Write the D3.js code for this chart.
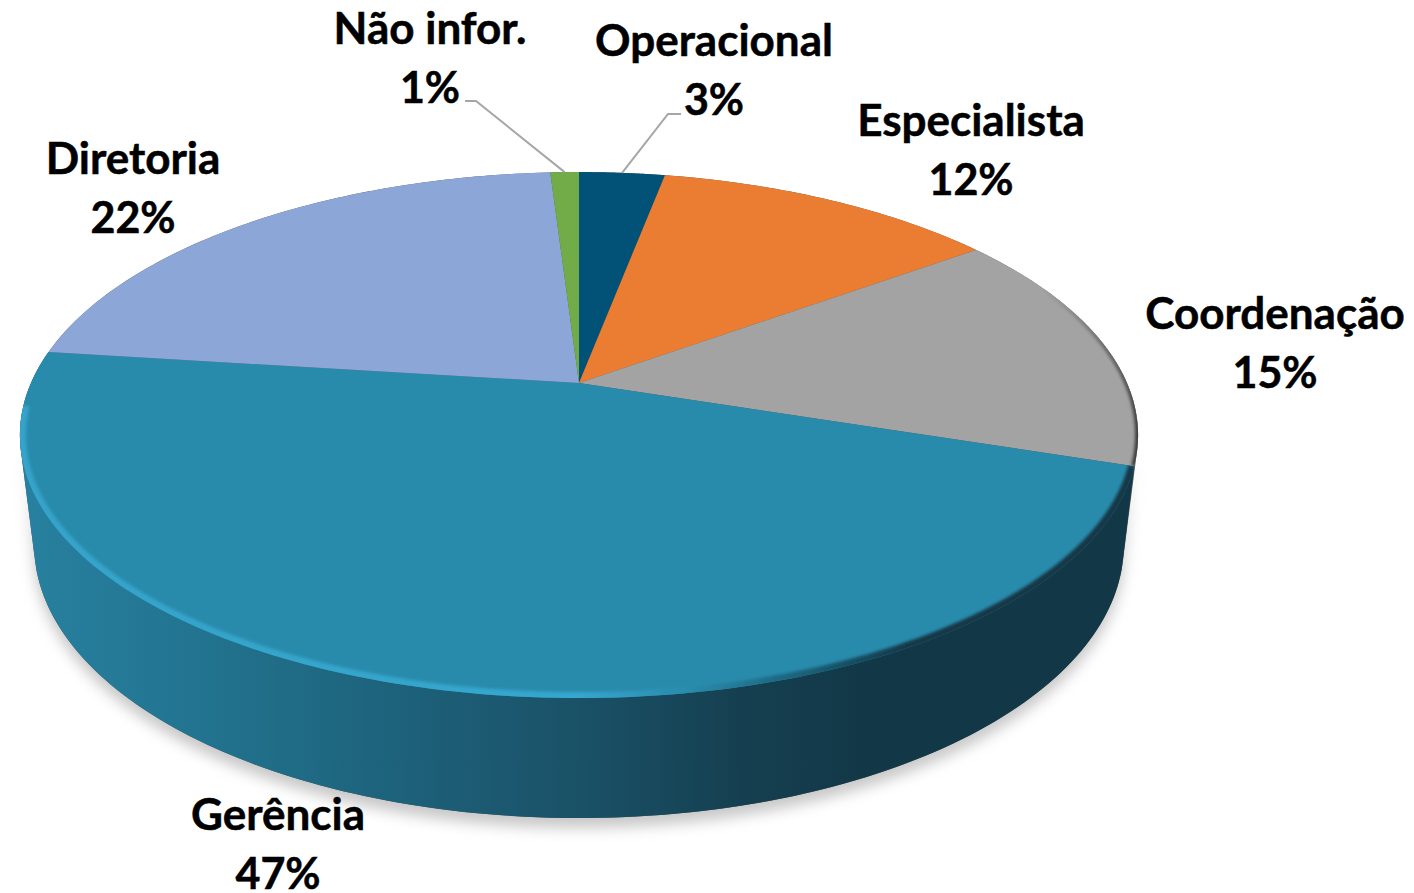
<!DOCTYPE html>
<html><head><meta charset="utf-8">
<script src="https://cdn.jsdelivr.net/npm/d3@7/dist/d3.min.js"></script>
<style>html,body{margin:0;padding:0;background:#fff;overflow:hidden}svg{display:block}</style>
</head><body><svg id="c" width="1414" height="893"></svg>
<script>
const categories = ["Operacional","Especialista","Coordenação","Gerência","Diretoria","Não infor."];
const values = [3,12,15,47,22,1];
const colors = ["#025277","#EA7D31","#A3A3A3","#298BAC","#8CA6D8","#72AC48"];
const sideStops = [[0,"#27809f"],[0.15,"#227490"],[0.35,"#1d6079"],[0.5,"#1a5167"],[0.65,"#153f50"],[0.78,"#123746"],[1,"#123746"]];

const W=1414,H=893, svg=d3.select("#c");
const defs=svg.append("defs");
const K=-0.198;
const top_={cx:579,cy:383,a:252.7,b:548};
const bot_={cx:579,cy:491,a:262.3,b:534};
const proj=(P,ang)=>{const u=Math.sin(ang),v=-Math.cos(ang),d=1+K*v;return [P.cx+P.b*u/d,P.cy+P.a*v/d];};
const samples=(P,a0,a1,n=160)=>d3.range(n+1).map(i=>proj(P,a0+(a1-a0)*i/n));
const line=d3.line();
const arcs=d3.pie().sort(null).value(d=>d)(values);
const TAU=2*Math.PI;
const full=[...samples(top_,0,TAU,360),...samples(bot_,0,TAU,360)];
const hull=d3.polygonHull(full);

// filters
const blur=(id,s)=>defs.append("filter").attr("id",id).attr("x","-10%").attr("y","-10%").attr("width","120%").attr("height","120%")
  .append("feGaussianBlur").attr("stdDeviation",s);
blur("shadow",7);blur("b1",1.8);

// side gradient
const xSide=d3.scaleLinear().domain([0,1]).range([30,1130]);
const g=defs.append("linearGradient").attr("id","side").attr("gradientUnits","userSpaceOnUse")
  .attr("x1",xSide(0)).attr("x2",xSide(1)).attr("y1",0).attr("y2",0);
sideStops.forEach(s=>g.append("stop").attr("offset",s[0]).attr("stop-color",s[1]));
const rim=defs.append("linearGradient").attr("id","rim").attr("gradientUnits","userSpaceOnUse")
  .attr("x1",20).attr("x2",1135).attr("y1",0).attr("y2",0);
[[0,"#35a3ca"],[0.5,"#36a6cd"],[0.6,"#298BAC"],[0.68,"#1d6a84"],[0.8,"#123746"],[1,"#123746"]]
  .forEach(s=>rim.append("stop").attr("offset",s[0]).attr("stop-color",s[1]));
const gr=defs.append("linearGradient").attr("id","grayRim").attr("gradientUnits","userSpaceOnUse")
  .attr("x1",1040).attr("x2",1130).attr("y1",290).attr("y2",440);
[[0,"#A3A3A3"],[0.45,"#6e6e6e"],[1,"#3c3c3c"]].forEach(s=>gr.append("stop").attr("offset",s[0]).attr("stop-color",s[1]));

// shadow, fading in towards the bottom
const fade=defs.append("linearGradient").attr("id","fade").attr("gradientUnits","userSpaceOnUse")
  .attr("x1",0).attr("x2",0).attr("y1",455).attr("y2",570);
[[0,"#000"],[1,"#fff"]].forEach(s=>fade.append("stop").attr("offset",s[0]).attr("stop-color",s[1]));
defs.append("mask").attr("id","lowMask").attr("maskUnits","userSpaceOnUse")
  .attr("x",0).attr("y",0).attr("width",W).attr("height",H)
  .append("rect").attr("width",W).attr("height",H).attr("fill","url(#fade)");
svg.append("g").attr("mask","url(#lowMask)")
  .append("path").attr("d",line(hull)+"Z").attr("fill","#c8c8c8")
  .attr("transform","translate(0,10)").attr("filter","url(#shadow)");

// back silhouette (gray sliver at right)
svg.append("path").attr("d",line(hull)+"Z").attr("fill","#555");

// Gerência side wall
const ger=arcs[3];
const sideHull=d3.polygonHull([...samples(top_,ger.startAngle,ger.endAngle),...samples(bot_,101*Math.PI/180,ger.endAngle)]);
svg.append("path").attr("d",line(sideHull)+"Z").attr("fill","url(#side)");

// top slices
const slicePts=d=>[[top_.cx,top_.cy],...samples(top_,d.startAngle,d.endAngle)];
arcs.forEach((d,i)=>{
  defs.append("clipPath").attr("id","clip"+i).append("path").attr("d",line(slicePts(d))+"Z");
});
svg.append("g").selectAll("path").data(arcs).join("path")
  .attr("d",d=>line(slicePts(d))+"Z")
  .attr("fill",(d,i)=>colors[i]);

// bevels
svg.append("g").attr("clip-path","url(#clip3)").append("path")
  .attr("d",line(samples(top_,ger.startAngle,265*Math.PI/180)))
  .attr("fill","none").attr("stroke","url(#rim)").attr("stroke-width",12).attr("filter","url(#b1)");
const co=arcs[2];
svg.append("g").attr("clip-path","url(#clip2)").append("path")
  .attr("d",line(samples(top_,62*Math.PI/180,co.endAngle)))
  .attr("fill","none").attr("stroke","url(#grayRim)").attr("stroke-width",6).attr("filter","url(#b1)");

// leaders
const mid=d=>(d.startAngle+d.endAngle)/2;
const leader=(i,x0,x1,y)=>svg.append("path")
  .attr("d",line([[x0,y],[x1,y],proj(top_,mid(arcs[i]))]))
  .attr("fill","none").attr("stroke","#A6A6A6").attr("stroke-width",2);
leader(5,465,476,101);
leader(0,681,668,114);

// labels
const labelAt={"Operacional":[714,56],"Especialista":[971,136],"Coordenação":[1275,329],"Gerência":[278,830],"Diretoria":[133,174],"Não infor.":[430,44]};
categories.forEach((c,i)=>{
  const [x,y]=labelAt[c];
  const t=svg.append("text").attr("text-anchor","middle").attr("font-family","Lato, 'Open Sans', sans-serif")
    .attr("font-weight",700).attr("font-size",44).attr("fill","#000")
    .attr("stroke","#000").attr("stroke-width",0.5);
  t.append("tspan").attr("x",x).attr("y",y).text(c);
  t.append("tspan").attr("x",x).attr("y",y+59).attr("font-size",43).text(d3.format(".0%")(values[i]/100));
});
</script></body></html>
